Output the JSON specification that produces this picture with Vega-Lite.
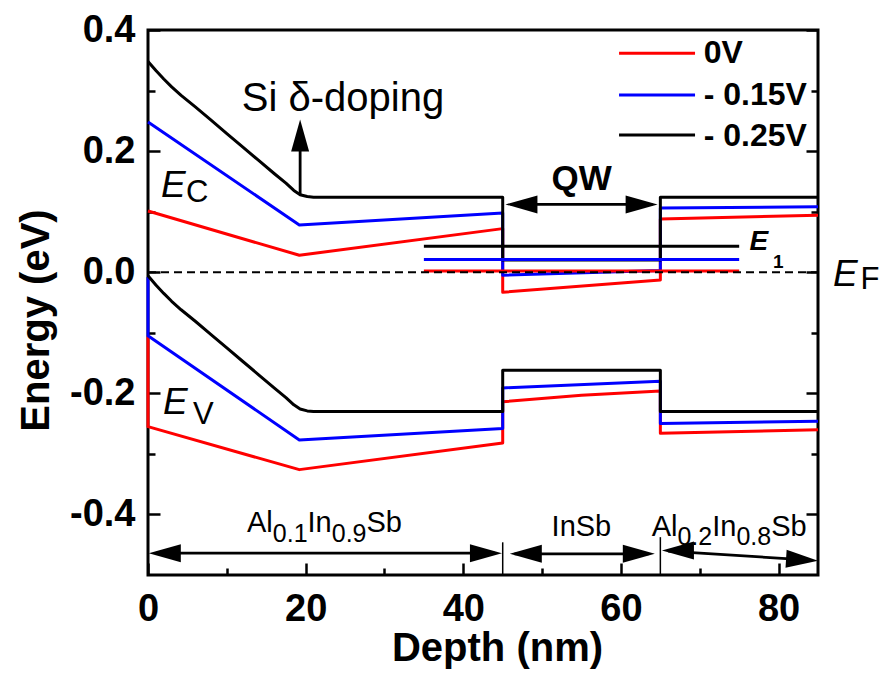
{
 "$schema": "https://vega.github.io/schema/vega-lite/v6.json",
 "width": 670, "height": 545,
 "autosize": {"type": "none"},
 "padding": {"left": 148, "top": 30, "right": 71, "bottom": 104},
 "background": "white",
 "config": {
  "font": "Liberation Sans",
  "view": {"stroke": "black", "strokeWidth": 3},
  "axis": {"grid": false, "domain": false, "tickColor": "black", "tickWidth": 2.5, "labelColor": "black", "titleColor": "black", "labelFlush": false}
 },
 "datasets": {
  "bands": [
   {"v": "0V", "seg": "rc", "i": 0, "x": 0, "y": 0.101},
   {"v": "0V", "seg": "rc", "i": 1, "x": 19.2, "y": 0.028},
   {"v": "0V", "seg": "rc", "i": 2, "x": 45, "y": 0.072},
   {"v": "0V", "seg": "rc", "i": 3, "x": 45, "y": -0.033},
   {"v": "0V", "seg": "rc", "i": 4, "x": 65, "y": -0.013},
   {"v": "0V", "seg": "rc", "i": 5, "x": 65, "y": 0.088},
   {"v": "0V", "seg": "rc", "i": 6, "x": 85, "y": 0.094},
   {"v": "0V", "seg": "rv", "i": 0, "x": 0, "y": -0.105},
   {"v": "0V", "seg": "rv", "i": 1, "x": 0, "y": -0.255},
   {"v": "0V", "seg": "rv", "i": 2, "x": 19.2, "y": -0.326},
   {"v": "0V", "seg": "rv", "i": 3, "x": 45, "y": -0.282},
   {"v": "0V", "seg": "rv", "i": 4, "x": 45, "y": -0.214},
   {"v": "0V", "seg": "rv", "i": 5, "x": 55, "y": -0.203},
   {"v": "0V", "seg": "rv", "i": 6, "x": 65, "y": -0.196},
   {"v": "0V", "seg": "rv", "i": 7, "x": 65, "y": -0.266},
   {"v": "0V", "seg": "rv", "i": 8, "x": 85, "y": -0.26},
   {"v": "- 0.15V", "seg": "bc", "i": 0, "x": 0, "y": 0.248},
   {"v": "- 0.15V", "seg": "bc", "i": 1, "x": 19.2, "y": 0.078},
   {"v": "- 0.15V", "seg": "bc", "i": 2, "x": 45, "y": 0.098},
   {"v": "- 0.15V", "seg": "bc", "i": 3, "x": 45, "y": -0.005},
   {"v": "- 0.15V", "seg": "bc", "i": 4, "x": 65, "y": 0.003},
   {"v": "- 0.15V", "seg": "bc", "i": 5, "x": 65, "y": 0.106},
   {"v": "- 0.15V", "seg": "bc", "i": 6, "x": 85, "y": 0.108},
   {"v": "- 0.15V", "seg": "bv", "i": 0, "x": 0, "y": -0.008},
   {"v": "- 0.15V", "seg": "bv", "i": 1, "x": 0, "y": -0.105},
   {"v": "- 0.15V", "seg": "bv", "i": 2, "x": 19.2, "y": -0.277},
   {"v": "- 0.15V", "seg": "bv", "i": 3, "x": 45, "y": -0.258},
   {"v": "- 0.15V", "seg": "bv", "i": 4, "x": 45, "y": -0.191},
   {"v": "- 0.15V", "seg": "bv", "i": 5, "x": 65, "y": -0.18},
   {"v": "- 0.15V", "seg": "bv", "i": 6, "x": 65, "y": -0.25},
   {"v": "- 0.15V", "seg": "bv", "i": 7, "x": 85, "y": -0.246},
   {"v": "- 0.25V", "seg": "kc", "i": 0, "x": 0, "y": 0.348},
   {"v": "- 0.25V", "seg": "kc", "i": 1, "x": 1, "y": 0.333},
   {"v": "- 0.25V", "seg": "kc", "i": 2, "x": 2, "y": 0.319},
   {"v": "- 0.25V", "seg": "kc", "i": 3, "x": 3, "y": 0.306},
   {"v": "- 0.25V", "seg": "kc", "i": 4, "x": 4.2, "y": 0.292},
   {"v": "- 0.25V", "seg": "kc", "i": 5, "x": 6, "y": 0.273},
   {"v": "- 0.25V", "seg": "kc", "i": 6, "x": 8, "y": 0.251},
   {"v": "- 0.25V", "seg": "kc", "i": 7, "x": 10, "y": 0.229},
   {"v": "- 0.25V", "seg": "kc", "i": 8, "x": 12, "y": 0.207},
   {"v": "- 0.25V", "seg": "kc", "i": 9, "x": 14, "y": 0.185},
   {"v": "- 0.25V", "seg": "kc", "i": 10, "x": 16, "y": 0.163},
   {"v": "- 0.25V", "seg": "kc", "i": 11, "x": 17.5, "y": 0.147},
   {"v": "- 0.25V", "seg": "kc", "i": 12, "x": 18.5, "y": 0.135},
   {"v": "- 0.25V", "seg": "kc", "i": 13, "x": 19.3, "y": 0.128},
   {"v": "- 0.25V", "seg": "kc", "i": 14, "x": 20.2, "y": 0.125},
   {"v": "- 0.25V", "seg": "kc", "i": 15, "x": 21, "y": 0.124},
   {"v": "- 0.25V", "seg": "kc", "i": 16, "x": 45, "y": 0.124},
   {"v": "- 0.25V", "seg": "kc", "i": 17, "x": 45, "y": 0.02},
   {"v": "- 0.25V", "seg": "kc", "i": 18, "x": 65, "y": 0.02},
   {"v": "- 0.25V", "seg": "kc", "i": 19, "x": 65, "y": 0.124},
   {"v": "- 0.25V", "seg": "kc", "i": 20, "x": 85, "y": 0.124},
   {"v": "- 0.25V", "seg": "kv", "i": 0, "x": 0, "y": -0.006},
   {"v": "- 0.25V", "seg": "kv", "i": 1, "x": 1, "y": -0.021},
   {"v": "- 0.25V", "seg": "kv", "i": 2, "x": 2, "y": -0.035},
   {"v": "- 0.25V", "seg": "kv", "i": 3, "x": 3, "y": -0.048},
   {"v": "- 0.25V", "seg": "kv", "i": 4, "x": 4.2, "y": -0.062},
   {"v": "- 0.25V", "seg": "kv", "i": 5, "x": 6, "y": -0.081},
   {"v": "- 0.25V", "seg": "kv", "i": 6, "x": 8, "y": -0.103},
   {"v": "- 0.25V", "seg": "kv", "i": 7, "x": 10, "y": -0.125},
   {"v": "- 0.25V", "seg": "kv", "i": 8, "x": 12, "y": -0.147},
   {"v": "- 0.25V", "seg": "kv", "i": 9, "x": 14, "y": -0.169},
   {"v": "- 0.25V", "seg": "kv", "i": 10, "x": 16, "y": -0.191},
   {"v": "- 0.25V", "seg": "kv", "i": 11, "x": 17.5, "y": -0.207},
   {"v": "- 0.25V", "seg": "kv", "i": 12, "x": 18.5, "y": -0.219},
   {"v": "- 0.25V", "seg": "kv", "i": 13, "x": 19.3, "y": -0.226},
   {"v": "- 0.25V", "seg": "kv", "i": 14, "x": 20.2, "y": -0.229},
   {"v": "- 0.25V", "seg": "kv", "i": 15, "x": 21, "y": -0.23},
   {"v": "- 0.25V", "seg": "kv", "i": 16, "x": 45, "y": -0.23},
   {"v": "- 0.25V", "seg": "kv", "i": 17, "x": 45, "y": -0.162},
   {"v": "- 0.25V", "seg": "kv", "i": 18, "x": 65, "y": -0.162},
   {"v": "- 0.25V", "seg": "kv", "i": 19, "x": 65, "y": -0.23},
   {"v": "- 0.25V", "seg": "kv", "i": 20, "x": 85, "y": -0.23}
  ],
  "levels": [
   {"v": "0V", "x": 35, "x2": 75, "y": 0.002},
   {"v": "- 0.15V", "x": 35, "x2": 75, "y": 0.021},
   {"v": "- 0.25V", "x": 35, "x2": 75, "y": 0.043}
  ],
  "fermi": [{"x": 0, "y": 0}, {"x": 85, "y": 0}],
  "legend": [
   {"v": "0V", "x": 59.76, "x2": 69.4, "y": 0.3615},
   {"v": "- 0.15V", "x": 59.76, "x2": 69.4, "y": 0.2926},
   {"v": "- 0.25V", "x": 59.76, "x2": 69.4, "y": 0.2264}
  ],
  "arrows": [
   {"x": 19.3, "y": 0.128, "x2": 19.3, "y2": 0.235},
   {"x": 46, "y": 0.112, "x2": 64, "y2": 0.112},
   {"x": 1, "y": -0.464, "x2": 44, "y2": -0.464},
   {"x": 46.5, "y": -0.465, "x2": 63.5, "y2": -0.465},
   {"x": 66, "y": -0.4605, "x2": 84, "y2": -0.4755}
  ],
  "heads": [
   {"x": 19.3, "y": 0.252, "dir": "up"},
   {"x": 45.35, "y": 0.112, "dir": "left"},
   {"x": 64.65, "y": 0.112, "dir": "right"},
   {"x": 0.1, "y": -0.464, "dir": "left"},
   {"x": 44.9, "y": -0.464, "dir": "right"},
   {"x": 45.9, "y": -0.465, "dir": "left"},
   {"x": 64.3, "y": -0.465, "dir": "right"},
   {"x": 65.2, "y": -0.4595, "dir": "left"},
   {"x": 85, "y": -0.4765, "dir": "rightdown"}
  ],
  "seps": [
   {"x": 45, "y": -0.446, "y2": -0.5},
   {"x": 65, "y": -0.4375, "y2": -0.5}
  ],
  "labels": [
   {"role": "si", "t": "Si δ-doping", "x": 11.9, "y": 0.2666},
   {"role": "comp", "t": "Al", "x": 12.56, "y": -0.429},
   {"role": "sub", "t": "0.1", "x": 15.83, "y": -0.446},
   {"role": "comp", "t": "In", "x": 20.24, "y": -0.429},
   {"role": "sub", "t": "0.9", "x": 23.31, "y": -0.446},
   {"role": "comp", "t": "Sb", "x": 27.72, "y": -0.429},
   {"role": "comp", "t": "InSb", "x": 51.2, "y": -0.435},
   {"role": "comp", "t": "Al", "x": 63.9, "y": -0.435},
   {"role": "sub", "t": "0.2", "x": 67.17, "y": -0.451},
   {"role": "comp", "t": "In", "x": 71.58, "y": -0.435},
   {"role": "sub", "t": "0.8", "x": 74.65, "y": -0.451},
   {"role": "comp", "t": "Sb", "x": 79.06, "y": -0.435},
   {"role": "E", "t": "E", "x": 1.65, "y": 0.1245},
   {"role": "esub", "t": "C", "x": 4.82, "y": 0.116},
   {"role": "E", "t": "E", "x": 1.9, "y": -0.2336},
   {"role": "esub", "t": "V", "x": 5.7, "y": -0.25},
   {"role": "E", "t": "E", "x": 86.9, "y": -0.023},
   {"role": "esub", "t": "F", "x": 90.4, "y": -0.028},
   {"role": "e1", "t": "E", "x": 76.3, "y": 0.037},
   {"role": "e1sub", "t": "1", "x": 79.3, "y": 0.007},
   {"role": "qw", "t": "QW", "x": 51.2, "y": 0.1355},
   {"role": "leg", "t": "0V", "x": 70.5, "y": 0.345},
   {"role": "leg", "t": "- 0.15V", "x": 70.5, "y": 0.276},
   {"role": "leg", "t": "- 0.25V", "x": 70.5, "y": 0.208}
  ]
 },
 "resolve": {"axis": {"x": "independent", "y": "independent"}},
 "encoding": {
  "x": {"field": "x", "type": "quantitative", "axis": null},
  "y": {"field": "y", "type": "quantitative", "axis": null}
 },
 "layer": [
  {
   "data": {"name": "bands"},
   "mark": {"type": "line", "strokeWidth": 3, "strokeJoin": "round"},
   "encoding": {
    "x": {"field": "x", "type": "quantitative", "scale": {"domain": [0, 85], "nice": false, "zero": false},
     "axis": {"orient": "bottom", "values": [0, 20, 40, 60, 80], "tickSize": -12, "labelFontSize": 38, "labelFontWeight": "bold", "labelPadding": 27,
      "title": "Depth (nm)", "titleFontSize": 40, "titleFontWeight": "bold", "titleX": 349, "titleY": 85, "titleBaseline": "alphabetic", "titleAlign": "center"}},
    "y": {"field": "y", "type": "quantitative", "scale": {"domain": [-0.5, 0.4], "nice": false, "zero": false},
     "axis": {"orient": "left", "values": [-0.4, -0.2, 0, 0.2, 0.4], "tickSize": -12, "labelFontSize": 38, "labelFontWeight": "bold", "labelPadding": 25,
      "labelExpr": "datum.value < 0 ? '-' + format(-datum.value, '.1f') : format(datum.value, '.1f')",
      "title": "Energy (eV)", "titleFontSize": 40, "titleFontWeight": "bold", "titleX": -92, "titleY": 290, "titleBaseline": "bottom", "titleAngle": -90, "titleAlign": "center"}},
    "color": {"field": "v", "type": "nominal", "scale": {"domain": ["0V", "- 0.15V", "- 0.25V"], "range": ["#ff0000", "#0000ff", "#000000"]}, "legend": null},
    "detail": {"field": "seg"},
    "order": {"field": "i", "type": "quantitative"}
   }
  },
  {
   "data": {"name": "levels"},
   "mark": {"type": "rule", "strokeWidth": 3},
   "encoding": {
    "x": {"field": "x", "type": "quantitative", "axis": {"orient": "bottom", "values": [10, 30, 50, 70], "tickSize": -7, "labels": false, "title": null}},
    "x2": {"field": "x2"},
    "y": {"field": "y", "type": "quantitative", "axis": {"orient": "left", "values": [-0.3, -0.1, 0.1, 0.3], "tickSize": -7, "labels": false, "title": null}},
    "color": {"field": "v", "type": "nominal", "legend": null}
   }
  },
  {
   "data": {"name": "fermi"},
   "mark": {"type": "line", "strokeWidth": 2, "strokeDash": [8, 5], "color": "black"},
   "encoding": {
    "y": {"field": "y", "type": "quantitative", "axis": {"orient": "right", "values": [-0.4, -0.2, 0, 0.2, 0.4], "tickSize": -12, "labels": false, "title": null}}
   }
  },
  {
   "data": {"name": "legend"},
   "mark": {"type": "rule", "strokeWidth": 3},
   "encoding": {
    "x2": {"field": "x2"},
    "y": {"field": "y", "type": "quantitative", "axis": {"orient": "right", "values": [-0.3, -0.1, 0.1, 0.3], "tickSize": -7, "labels": false, "title": null}},
    "color": {"field": "v", "type": "nominal", "legend": null}
   }
  },
  {
   "data": {"name": "arrows"},
   "mark": {"type": "rule", "strokeWidth": 2.8, "color": "black"},
   "encoding": {"x2": {"field": "x2"}, "y2": {"field": "y2"}}
  },
  {
   "data": {"name": "seps"},
   "mark": {"type": "rule", "strokeWidth": 1.5, "color": "black"},
   "encoding": {"y2": {"field": "y2"}}
  },
  {
   "data": {"name": "heads"},
   "mark": {"type": "point", "filled": true, "color": "black", "opacity": 1, "size": 1600, "strokeWidth": 0},
   "encoding": {
    "shape": {"field": "dir", "type": "nominal", "legend": null,
     "scale": {"domain": ["up", "left", "right", "rightdown"],
      "range": ["M0,0L-0.45,1.6L0.45,1.6Z", "M0,0L1.6,-0.45L1.6,0.45Z", "M0,0L-1.6,-0.45L-1.6,0.45Z", "M0,0L-1.569,-0.55L-1.625,0.349Z"]}}
   }
  },
  {
   "data": {"name": "labels"}, "transform": [{"filter": "datum.role === 'si'"}],
   "mark": {"type": "text", "fontSize": 40, "align": "left", "baseline": "alphabetic", "color": "black"},
   "encoding": {"text": {"field": "t"}}
  },
  {
   "data": {"name": "labels"}, "transform": [{"filter": "datum.role === 'comp'"}],
   "mark": {"type": "text", "fontSize": 29, "align": "left", "baseline": "alphabetic", "color": "black"},
   "encoding": {"text": {"field": "t"}}
  },
  {
   "data": {"name": "labels"}, "transform": [{"filter": "datum.role === 'sub'"}],
   "mark": {"type": "text", "fontSize": 25, "align": "left", "baseline": "alphabetic", "color": "black"},
   "encoding": {"text": {"field": "t"}}
  },
  {
   "data": {"name": "labels"}, "transform": [{"filter": "datum.role === 'E'"}],
   "mark": {"type": "text", "fontSize": 37, "fontStyle": "italic", "align": "left", "baseline": "alphabetic", "color": "black"},
   "encoding": {"text": {"field": "t"}}
  },
  {
   "data": {"name": "labels"}, "transform": [{"filter": "datum.role === 'esub'"}],
   "mark": {"type": "text", "fontSize": 31, "align": "left", "baseline": "alphabetic", "color": "black"},
   "encoding": {"text": {"field": "t"}}
  },
  {
   "data": {"name": "labels"}, "transform": [{"filter": "datum.role === 'e1'"}],
   "mark": {"type": "text", "fontSize": 28, "fontStyle": "italic", "fontWeight": "bold", "align": "left", "baseline": "alphabetic", "color": "black"},
   "encoding": {"text": {"field": "t"}}
  },
  {
   "data": {"name": "labels"}, "transform": [{"filter": "datum.role === 'e1sub'"}],
   "mark": {"type": "text", "fontSize": 19, "fontWeight": "bold", "align": "left", "baseline": "alphabetic", "color": "black"},
   "encoding": {"text": {"field": "t"}}
  },
  {
   "data": {"name": "labels"}, "transform": [{"filter": "datum.role === 'qw'"}],
   "mark": {"type": "text", "fontSize": 35, "fontWeight": "bold", "align": "left", "baseline": "alphabetic", "color": "black"},
   "encoding": {"text": {"field": "t"}}
  },
  {
   "data": {"name": "labels"}, "transform": [{"filter": "datum.role === 'leg'"}],
   "mark": {"type": "text", "fontSize": 32, "fontWeight": "bold", "align": "left", "baseline": "alphabetic", "color": "black"},
   "encoding": {"text": {"field": "t"}}
  }
 ]
}
